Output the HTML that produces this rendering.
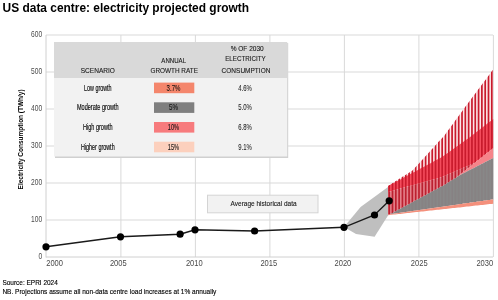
<!DOCTYPE html>
<html><head><meta charset="utf-8"><style>
html,body{margin:0;padding:0;background:#fff;width:498px;height:300px;overflow:hidden;}
svg{position:absolute;left:0;top:0;filter:blur(0.3px);font-family:"Liberation Sans",sans-serif;}
</style></head><body>
<svg width="498" height="300">
<line x1="46" y1="220.0" x2="493" y2="220.0" stroke="#d9d9d9" stroke-width="1"/>
<line x1="46" y1="183.0" x2="493" y2="183.0" stroke="#d9d9d9" stroke-width="1"/>
<line x1="46" y1="146.0" x2="493" y2="146.0" stroke="#d9d9d9" stroke-width="1"/>
<line x1="46" y1="109.0" x2="493" y2="109.0" stroke="#d9d9d9" stroke-width="1"/>
<line x1="46" y1="72.0" x2="493" y2="72.0" stroke="#d9d9d9" stroke-width="1"/>
<line x1="46" y1="35.0" x2="493" y2="35.0" stroke="#d9d9d9" stroke-width="1"/>
<line x1="120.9" y1="35" x2="120.9" y2="257" stroke="#d9d9d9" stroke-width="1"/>
<line x1="195.4" y1="35" x2="195.4" y2="257" stroke="#d9d9d9" stroke-width="1"/>
<line x1="269.9" y1="35" x2="269.9" y2="257" stroke="#d9d9d9" stroke-width="1"/>
<line x1="344.4" y1="35" x2="344.4" y2="257" stroke="#d9d9d9" stroke-width="1"/>
<line x1="418.9" y1="35" x2="418.9" y2="257" stroke="#d9d9d9" stroke-width="1"/>
<line x1="493.4" y1="35" x2="493.4" y2="257" stroke="#d9d9d9" stroke-width="1"/>
<line x1="46" y1="35" x2="46" y2="257.5" stroke="#d0d0d0" stroke-width="1"/>
<line x1="46" y1="257" x2="493" y2="257" stroke="#d0d0d0" stroke-width="1"/>
<polygon points="344.0,227.0 360.6,207.1 388.0,187.0 388.0,215.5 374.6,236.7 356.0,234.0" fill="#bfbfbf"/>
<polygon points="388.0,186.0 389.8,184.9 391.5,183.8 393.3,182.7 395.0,181.6 396.8,180.5 398.5,179.3 400.3,178.2 402.0,177.1 403.8,176.0 405.5,174.9 407.3,173.8 409.0,172.7 410.8,171.6 412.5,170.4 414.3,168.5 416.1,166.6 417.8,164.7 419.6,162.8 421.3,160.8 423.1,158.9 424.8,157.0 426.6,155.1 428.3,153.2 430.1,151.2 431.8,149.3 433.6,147.4 435.3,145.5 437.1,143.6 438.8,141.6 440.6,139.7 442.4,137.8 444.1,135.9 445.9,133.5 447.6,131.1 449.4,128.7 451.1,126.3 452.9,123.9 454.6,121.5 456.4,119.1 458.1,116.7 459.9,114.3 461.6,111.9 463.4,109.5 465.1,107.1 466.9,104.7 468.7,102.3 470.4,100.0 472.2,97.6 473.9,95.3 475.7,92.9 477.4,90.6 479.2,88.2 480.9,85.9 482.7,83.6 484.4,81.2 486.2,78.9 487.9,76.5 489.7,74.2 491.4,71.8 493.2,69.5 493.2,119.0 491.4,120.4 489.7,121.7 487.9,123.1 486.2,124.4 484.4,125.8 482.7,127.2 480.9,128.5 479.2,129.9 477.4,131.2 475.7,132.6 473.9,134.0 472.2,135.3 470.4,136.7 468.7,138.0 466.9,139.2 465.1,140.5 463.4,141.7 461.6,143.0 459.9,144.2 458.1,145.5 456.4,146.7 454.6,148.0 452.9,149.2 451.1,150.5 449.4,151.7 447.6,153.0 445.9,154.2 444.1,155.5 442.4,156.7 440.6,157.8 438.8,158.7 437.1,159.6 435.3,160.6 433.6,161.5 431.8,162.5 430.1,163.4 428.3,164.3 426.6,165.3 424.8,166.2 423.1,167.2 421.3,168.1 419.6,169.1 417.8,170.0 416.1,170.9 414.3,171.9 412.5,172.8 410.8,173.8 409.0,174.7 407.3,175.6 405.5,176.6 403.8,177.5 402.0,178.5 400.3,179.4 398.5,180.4 396.8,181.3 395.0,182.2 393.3,183.2 391.5,184.1 389.8,185.1 388.0,186.0" fill="#fde6e8" />
<polygon points="388.0,186.0 389.8,185.1 391.5,184.1 393.3,183.2 395.0,182.2 396.8,181.3 398.5,180.4 400.3,179.4 402.0,178.5 403.8,177.5 405.5,176.6 407.3,175.6 409.0,174.7 410.8,173.8 412.5,172.8 414.3,171.9 416.1,170.9 417.8,170.0 419.6,169.1 421.3,168.1 423.1,167.2 424.8,166.2 426.6,165.3 428.3,164.3 430.1,163.4 431.8,162.5 433.6,161.5 435.3,160.6 437.1,159.6 438.8,158.7 440.6,157.8 442.4,156.7 444.1,155.5 445.9,154.2 447.6,153.0 449.4,151.7 451.1,150.5 452.9,149.2 454.6,148.0 456.4,146.7 458.1,145.5 459.9,144.2 461.6,143.0 463.4,141.7 465.1,140.5 466.9,139.2 468.7,138.0 470.4,136.7 472.2,135.3 473.9,134.0 475.7,132.6 477.4,131.2 479.2,129.9 480.9,128.5 482.7,127.2 484.4,125.8 486.2,124.4 487.9,123.1 489.7,121.7 491.4,120.4 493.2,119.0 493.2,148.0 491.4,149.4 489.7,150.8 487.9,152.2 486.2,153.6 484.4,155.0 482.7,156.4 480.9,157.8 479.2,159.2 477.4,160.6 475.7,162.0 473.9,163.3 472.2,164.0 470.4,164.8 468.7,165.5 466.9,166.3 465.1,167.1 463.4,167.8 461.6,168.6 459.9,169.3 458.1,170.1 456.4,170.8 454.6,171.6 452.9,172.3 451.1,173.1 449.4,173.8 447.6,174.6 445.9,175.3 444.1,176.1 442.4,176.8 440.6,177.4 438.8,177.9 437.1,178.4 435.3,178.9 433.6,179.3 431.8,179.8 430.1,180.3 428.3,180.8 426.6,181.3 424.8,181.8 423.1,182.3 421.3,182.7 419.6,183.2 417.8,183.7 416.1,184.2 414.3,184.7 412.5,185.2 410.8,185.7 409.0,186.2 407.3,186.6 405.5,187.1 403.8,187.6 402.0,188.1 400.3,188.6 398.5,189.1 396.8,189.6 395.0,190.1 393.3,190.5 391.5,191.0 389.8,191.5 388.0,192.0" fill="#f44c5c" />
<polygon points="388.0,192.0 389.8,191.5 391.5,191.0 393.3,190.5 395.0,190.1 396.8,189.6 398.5,189.1 400.3,188.6 402.0,188.1 403.8,187.6 405.5,187.1 407.3,186.6 409.0,186.2 410.8,185.7 412.5,185.2 414.3,184.7 416.1,184.2 417.8,183.7 419.6,183.2 421.3,182.7 423.1,182.3 424.8,181.8 426.6,181.3 428.3,180.8 430.1,180.3 431.8,179.8 433.6,179.3 435.3,178.9 437.1,178.4 438.8,177.9 440.6,177.4 442.4,176.8 444.1,176.1 445.9,175.3 447.6,174.6 449.4,173.8 451.1,173.1 452.9,172.3 454.6,171.6 456.4,170.8 458.1,170.1 459.9,169.3 461.6,168.6 463.4,167.8 465.1,167.1 466.9,166.3 468.7,165.5 470.4,164.8 472.2,164.0 473.9,163.3 475.7,162.0 477.4,160.6 479.2,159.2 480.9,157.8 482.7,156.4 484.4,155.0 486.2,153.6 487.9,152.2 489.7,150.8 491.4,149.4 493.2,148.0 493.2,148.0 491.4,149.4 489.7,150.8 487.9,152.2 486.2,153.6 484.4,155.0 482.7,156.4 480.9,157.8 479.2,159.2 477.4,160.6 475.7,162.0 473.9,163.4 472.2,164.8 470.4,166.2 468.7,167.6 466.9,169.0 465.1,170.4 463.4,171.8 461.6,173.2 459.9,174.6 458.1,176.0 456.4,177.4 454.6,178.4 452.9,179.5 451.1,180.6 449.4,181.7 447.6,182.8 445.9,183.9 444.1,184.9 442.4,185.9 440.6,186.8 438.8,187.8 437.1,188.7 435.3,189.7 433.6,190.6 431.8,191.6 430.1,192.5 428.3,193.5 426.6,194.4 424.8,195.4 423.1,196.3 421.3,197.3 419.6,198.2 417.8,199.2 416.1,200.1 414.3,201.1 412.5,202.0 410.8,203.0 409.0,203.9 407.3,204.9 405.5,205.8 403.8,206.8 402.0,207.7 400.3,208.7 398.5,209.6 396.8,210.6 395.0,211.5 393.3,212.5 391.5,213.4 389.8,214.2 388.0,214.5" fill="#e4808a" />
<polygon points="388.0,214.5 389.8,214.2 391.5,213.4 393.3,212.5 395.0,211.5 396.8,210.6 398.5,209.6 400.3,208.7 402.0,207.7 403.8,206.8 405.5,205.8 407.3,204.9 409.0,203.9 410.8,203.0 412.5,202.0 414.3,201.1 416.1,200.1 417.8,199.2 419.6,198.2 421.3,197.3 423.1,196.3 424.8,195.4 426.6,194.4 428.3,193.5 430.1,192.5 431.8,191.6 433.6,190.6 435.3,189.7 437.1,188.7 438.8,187.8 440.6,186.8 442.4,185.9 444.1,184.9 445.9,183.9 447.6,182.8 449.4,181.7 451.1,180.6 452.9,179.5 454.6,178.4 456.4,177.4 458.1,176.0 459.9,174.6 461.6,173.2 463.4,171.8 465.1,170.4 466.9,169.0 468.7,167.6 470.4,166.2 472.2,164.8 473.9,163.4 475.7,162.0 477.4,160.6 479.2,159.2 480.9,157.8 482.7,156.4 484.4,155.0 486.2,153.6 487.9,152.2 489.7,150.8 491.4,149.4 493.2,148.0 493.2,158.0 491.4,158.9 489.7,159.8 487.9,160.7 486.2,161.6 484.4,162.5 482.7,163.4 480.9,164.3 479.2,165.2 477.4,166.1 475.7,167.0 473.9,167.9 472.2,168.8 470.4,169.7 468.7,170.6 466.9,171.5 465.1,172.4 463.4,173.3 461.6,174.2 459.9,175.2 458.1,176.3 456.4,177.4 454.6,178.4 452.9,179.5 451.1,180.6 449.4,181.7 447.6,182.8 445.9,183.9 444.1,184.9 442.4,185.9 440.6,186.8 438.8,187.8 437.1,188.7 435.3,189.7 433.6,190.6 431.8,191.6 430.1,192.5 428.3,193.5 426.6,194.4 424.8,195.4 423.1,196.3 421.3,197.3 419.6,198.2 417.8,199.2 416.1,200.1 414.3,201.1 412.5,202.0 410.8,203.0 409.0,203.9 407.3,204.9 405.5,205.8 403.8,206.8 402.0,207.7 400.3,208.7 398.5,209.6 396.8,210.6 395.0,211.5 393.3,212.5 391.5,213.4 389.8,214.2 388.0,214.5" fill="#f6848a" />
<polygon points="388.0,214.5 389.8,214.2 391.5,213.4 393.3,212.5 395.0,211.5 396.8,210.6 398.5,209.6 400.3,208.7 402.0,207.7 403.8,206.8 405.5,205.8 407.3,204.9 409.0,203.9 410.8,203.0 412.5,202.0 414.3,201.1 416.1,200.1 417.8,199.2 419.6,198.2 421.3,197.3 423.1,196.3 424.8,195.4 426.6,194.4 428.3,193.5 430.1,192.5 431.8,191.6 433.6,190.6 435.3,189.7 437.1,188.7 438.8,187.8 440.6,186.8 442.4,185.9 444.1,184.9 445.9,183.9 447.6,182.8 449.4,181.7 451.1,180.6 452.9,179.5 454.6,178.4 456.4,177.4 458.1,176.3 459.9,175.2 461.6,174.2 463.4,173.3 465.1,172.4 466.9,171.5 468.7,170.6 470.4,169.7 472.2,168.8 473.9,167.9 475.7,167.0 477.4,166.1 479.2,165.2 480.9,164.3 482.7,163.4 484.4,162.5 486.2,161.6 487.9,160.7 489.7,159.8 491.4,158.9 493.2,158.0 493.2,199.4 491.4,199.6 489.7,199.9 487.9,200.1 486.2,200.4 484.4,200.6 482.7,200.9 480.9,201.1 479.2,201.4 477.4,201.6 475.7,201.9 473.9,202.1 472.2,202.4 470.4,202.6 468.7,202.9 466.9,203.1 465.1,203.4 463.4,203.6 461.6,203.9 459.9,204.1 458.1,204.4 456.4,204.7 454.6,204.9 452.9,205.2 451.1,205.4 449.4,205.7 447.6,205.9 445.9,206.2 444.1,206.4 442.4,206.7 440.6,206.9 438.8,207.2 437.1,207.4 435.3,207.7 433.6,207.9 431.8,208.2 430.1,208.4 428.3,208.7 426.6,208.9 424.8,209.2 423.1,209.5 421.3,209.7 419.6,210.0 417.8,210.2 416.1,210.5 414.3,210.7 412.5,211.0 410.8,211.2 409.0,211.5 407.3,211.7 405.5,212.0 403.8,212.2 402.0,212.5 400.3,212.7 398.5,213.0 396.8,213.2 395.0,213.5 393.3,213.7 391.5,214.0 389.8,214.2 388.0,214.5" fill="#888888" />
<polygon points="388.0,214.5 389.8,214.2 391.5,214.0 393.3,213.7 395.0,213.5 396.8,213.2 398.5,213.0 400.3,212.7 402.0,212.5 403.8,212.2 405.5,212.0 407.3,211.7 409.0,211.5 410.8,211.2 412.5,211.0 414.3,210.7 416.1,210.5 417.8,210.2 419.6,210.0 421.3,209.7 423.1,209.5 424.8,209.2 426.6,208.9 428.3,208.7 430.1,208.4 431.8,208.2 433.6,207.9 435.3,207.7 437.1,207.4 438.8,207.2 440.6,206.9 442.4,206.7 444.1,206.4 445.9,206.2 447.6,205.9 449.4,205.7 451.1,205.4 452.9,205.2 454.6,204.9 456.4,204.7 458.1,204.4 459.9,204.1 461.6,203.9 463.4,203.6 465.1,203.4 466.9,203.1 468.7,202.9 470.4,202.6 472.2,202.4 473.9,202.1 475.7,201.9 477.4,201.6 479.2,201.4 480.9,201.1 482.7,200.9 484.4,200.6 486.2,200.4 487.9,200.1 489.7,199.9 491.4,199.6 493.2,199.4 493.2,203.7 491.4,203.9 489.7,204.1 487.9,204.3 486.2,204.5 484.4,204.7 482.7,204.9 480.9,205.1 479.2,205.3 477.4,205.5 475.7,205.6 473.9,205.8 472.2,206.0 470.4,206.2 468.7,206.4 466.9,206.6 465.1,206.8 463.4,207.0 461.6,207.2 459.9,207.4 458.1,207.6 456.4,207.7 454.6,207.9 452.9,208.1 451.1,208.3 449.4,208.5 447.6,208.7 445.9,208.9 444.1,209.1 442.4,209.3 440.6,209.5 438.8,209.7 437.1,209.8 435.3,210.0 433.6,210.2 431.8,210.4 430.1,210.6 428.3,210.8 426.6,211.0 424.8,211.2 423.1,211.4 421.3,211.6 419.6,211.8 417.8,212.0 416.1,212.1 414.3,212.3 412.5,212.5 410.8,212.7 409.0,212.9 407.3,213.1 405.5,213.3 403.8,213.5 402.0,213.7 400.3,213.9 398.5,214.1 396.8,214.2 395.0,214.4 393.3,214.6 391.5,214.8 389.8,215.0 388.0,215.2" fill="#f4907c" />
<clipPath id="sc"><polygon points="388.0,186.0 389.8,184.9 391.5,183.8 393.3,182.7 395.0,181.6 396.8,180.5 398.5,179.3 400.3,178.2 402.0,177.1 403.8,176.0 405.5,174.9 407.3,173.8 409.0,172.7 410.8,171.6 412.5,170.4 414.3,168.5 416.1,166.6 417.8,164.7 419.6,162.8 421.3,160.8 423.1,158.9 424.8,157.0 426.6,155.1 428.3,153.2 430.1,151.2 431.8,149.3 433.6,147.4 435.3,145.5 437.1,143.6 438.8,141.6 440.6,139.7 442.4,137.8 444.1,135.9 445.9,133.5 447.6,131.1 449.4,128.7 451.1,126.3 452.9,123.9 454.6,121.5 456.4,119.1 458.1,116.7 459.9,114.3 461.6,111.9 463.4,109.5 465.1,107.1 466.9,104.7 468.7,102.3 470.4,100.0 472.2,97.6 473.9,95.3 475.7,92.9 477.4,90.6 479.2,88.2 480.9,85.9 482.7,83.6 484.4,81.2 486.2,78.9 487.9,76.5 489.7,74.2 491.4,71.8 493.2,69.5 493.2,148.0 491.4,149.4 489.7,150.8 487.9,152.2 486.2,153.6 484.4,155.0 482.7,156.4 480.9,157.8 479.2,159.2 477.4,160.6 475.7,162.0 473.9,163.3 472.2,164.0 470.4,164.8 468.7,165.5 466.9,166.3 465.1,167.1 463.4,167.8 461.6,168.6 459.9,169.3 458.1,170.1 456.4,170.8 454.6,171.6 452.9,172.3 451.1,173.1 449.4,173.8 447.6,174.6 445.9,175.3 444.1,176.1 442.4,176.8 440.6,177.4 438.8,177.9 437.1,178.4 435.3,178.9 433.6,179.3 431.8,179.8 430.1,180.3 428.3,180.8 426.6,181.3 424.8,181.8 423.1,182.3 421.3,182.7 419.6,183.2 417.8,183.7 416.1,184.2 414.3,184.7 412.5,185.2 410.8,185.7 409.0,186.2 407.3,186.6 405.5,187.1 403.8,187.6 402.0,188.1 400.3,188.6 398.5,189.1 396.8,189.6 395.0,190.1 393.3,190.5 391.5,191.0 389.8,191.5 388.0,192.0"/></clipPath>
<clipPath id="sc2"><polygon points="388.0,192.0 389.8,191.5 391.5,191.0 393.3,190.5 395.0,190.1 396.8,189.6 398.5,189.1 400.3,188.6 402.0,188.1 403.8,187.6 405.5,187.1 407.3,186.6 409.0,186.2 410.8,185.7 412.5,185.2 414.3,184.7 416.1,184.2 417.8,183.7 419.6,183.2 421.3,182.7 423.1,182.3 424.8,181.8 426.6,181.3 428.3,180.8 430.1,180.3 431.8,179.8 433.6,179.3 435.3,178.9 437.1,178.4 438.8,177.9 440.6,177.4 442.4,176.8 444.1,176.1 445.9,175.3 447.6,174.6 449.4,173.8 451.1,173.1 452.9,172.3 454.6,171.6 456.4,170.8 458.1,170.1 459.9,169.3 461.6,168.6 463.4,167.8 465.1,167.1 466.9,166.3 468.7,165.5 470.4,164.8 472.2,164.0 473.9,163.3 475.7,162.0 477.4,160.6 479.2,159.2 480.9,157.8 482.7,156.4 484.4,155.0 486.2,153.6 487.9,152.2 489.7,150.8 491.4,149.4 493.2,148.0 493.2,148.0 491.4,149.4 489.7,150.8 487.9,152.2 486.2,153.6 484.4,155.0 482.7,156.4 480.9,157.8 479.2,159.2 477.4,160.6 475.7,162.0 473.9,163.4 472.2,164.8 470.4,166.2 468.7,167.6 466.9,169.0 465.1,170.4 463.4,171.8 461.6,173.2 459.9,174.6 458.1,176.0 456.4,177.4 454.6,178.4 452.9,179.5 451.1,180.6 449.4,181.7 447.6,182.8 445.9,183.9 444.1,184.9 442.4,185.9 440.6,186.8 438.8,187.8 437.1,188.7 435.3,189.7 433.6,190.6 431.8,191.6 430.1,192.5 428.3,193.5 426.6,194.4 424.8,195.4 423.1,196.3 421.3,197.3 419.6,198.2 417.8,199.2 416.1,200.1 414.3,201.1 412.5,202.0 410.8,203.0 409.0,203.9 407.3,204.9 405.5,205.8 403.8,206.8 402.0,207.7 400.3,208.7 398.5,209.6 396.8,210.6 395.0,211.5 393.3,212.5 391.5,213.4 389.8,214.2 388.0,214.5"/></clipPath>
<g clip-path="url(#sc)" fill="#c81a2c"><rect x="388.35" y="60" width="1.7" height="160"/><rect x="391.66" y="60" width="1.7" height="160"/><rect x="394.97" y="60" width="1.7" height="160"/><rect x="398.28" y="60" width="1.7" height="160"/><rect x="401.59" y="60" width="1.7" height="160"/><rect x="404.90" y="60" width="1.7" height="160"/><rect x="408.21" y="60" width="1.7" height="160"/><rect x="411.52" y="60" width="1.7" height="160"/><rect x="414.83" y="60" width="1.7" height="160"/><rect x="418.14" y="60" width="1.7" height="160"/><rect x="421.45" y="60" width="1.7" height="160"/><rect x="424.76" y="60" width="1.7" height="160"/><rect x="428.07" y="60" width="1.7" height="160"/><rect x="431.38" y="60" width="1.7" height="160"/><rect x="434.69" y="60" width="1.7" height="160"/><rect x="438.00" y="60" width="1.7" height="160"/><rect x="441.31" y="60" width="1.7" height="160"/><rect x="444.62" y="60" width="1.7" height="160"/><rect x="447.93" y="60" width="1.7" height="160"/><rect x="451.24" y="60" width="1.7" height="160"/><rect x="454.55" y="60" width="1.7" height="160"/><rect x="457.86" y="60" width="1.7" height="160"/><rect x="461.17" y="60" width="1.7" height="160"/><rect x="464.48" y="60" width="1.7" height="160"/><rect x="467.79" y="60" width="1.7" height="160"/><rect x="471.10" y="60" width="1.7" height="160"/><rect x="474.41" y="60" width="1.7" height="160"/><rect x="477.72" y="60" width="1.7" height="160"/><rect x="481.03" y="60" width="1.7" height="160"/><rect x="484.34" y="60" width="1.7" height="160"/><rect x="487.65" y="60" width="1.7" height="160"/><rect x="490.96" y="60" width="1.7" height="160"/></g>
<g clip-path="url(#sc2)" fill="#bc2030"><rect x="388.35" y="60" width="1.7" height="160"/><rect x="391.66" y="60" width="1.7" height="160"/><rect x="394.97" y="60" width="1.7" height="160"/><rect x="398.28" y="60" width="1.7" height="160"/><rect x="401.59" y="60" width="1.7" height="160"/><rect x="404.90" y="60" width="1.7" height="160"/><rect x="408.21" y="60" width="1.7" height="160"/><rect x="411.52" y="60" width="1.7" height="160"/><rect x="414.83" y="60" width="1.7" height="160"/><rect x="418.14" y="60" width="1.7" height="160"/><rect x="421.45" y="60" width="1.7" height="160"/><rect x="424.76" y="60" width="1.7" height="160"/><rect x="428.07" y="60" width="1.7" height="160"/><rect x="431.38" y="60" width="1.7" height="160"/><rect x="434.69" y="60" width="1.7" height="160"/><rect x="438.00" y="60" width="1.7" height="160"/><rect x="441.31" y="60" width="1.7" height="160"/><rect x="444.62" y="60" width="1.7" height="160"/><rect x="447.93" y="60" width="1.7" height="160"/><rect x="451.24" y="60" width="1.7" height="160"/><rect x="454.55" y="60" width="1.7" height="160"/><rect x="457.86" y="60" width="1.7" height="160"/><rect x="461.17" y="60" width="1.7" height="160"/><rect x="464.48" y="60" width="1.7" height="160"/><rect x="467.79" y="60" width="1.7" height="160"/><rect x="471.10" y="60" width="1.7" height="160"/><rect x="474.41" y="60" width="1.7" height="160"/><rect x="477.72" y="60" width="1.7" height="160"/><rect x="481.03" y="60" width="1.7" height="160"/><rect x="484.34" y="60" width="1.7" height="160"/><rect x="487.65" y="60" width="1.7" height="160"/><rect x="490.96" y="60" width="1.7" height="160"/></g>
<clipPath id="sc3"><polygon points="388.0,214.5 389.8,214.2 391.5,213.4 393.3,212.5 395.0,211.5 396.8,210.6 398.5,209.6 400.3,208.7 402.0,207.7 403.8,206.8 405.5,205.8 407.3,204.9 409.0,203.9 410.8,203.0 412.5,202.0 414.3,201.1 416.1,200.1 417.8,199.2 419.6,198.2 421.3,197.3 423.1,196.3 424.8,195.4 426.6,194.4 428.3,193.5 430.1,192.5 431.8,191.6 433.6,190.6 435.3,189.7 437.1,188.7 438.8,187.8 440.6,186.8 442.4,185.9 444.1,184.9 445.9,183.9 447.6,182.8 449.4,181.7 451.1,180.6 452.9,179.5 454.6,178.4 456.4,177.4 458.1,176.3 459.9,175.2 461.6,174.2 463.4,173.3 465.1,172.4 466.9,171.5 468.7,170.6 470.4,169.7 472.2,168.8 473.9,167.9 475.7,167.0 477.4,166.1 479.2,165.2 480.9,164.3 482.7,163.4 484.4,162.5 486.2,161.6 487.9,160.7 489.7,159.8 491.4,158.9 493.2,158.0 493.2,199.4 491.4,199.6 489.7,199.9 487.9,200.1 486.2,200.4 484.4,200.6 482.7,200.9 480.9,201.1 479.2,201.4 477.4,201.6 475.7,201.9 473.9,202.1 472.2,202.4 470.4,202.6 468.7,202.9 466.9,203.1 465.1,203.4 463.4,203.6 461.6,203.9 459.9,204.1 458.1,204.4 456.4,204.7 454.6,204.9 452.9,205.2 451.1,205.4 449.4,205.7 447.6,205.9 445.9,206.2 444.1,206.4 442.4,206.7 440.6,206.9 438.8,207.2 437.1,207.4 435.3,207.7 433.6,207.9 431.8,208.2 430.1,208.4 428.3,208.7 426.6,208.9 424.8,209.2 423.1,209.5 421.3,209.7 419.6,210.0 417.8,210.2 416.1,210.5 414.3,210.7 412.5,211.0 410.8,211.2 409.0,211.5 407.3,211.7 405.5,212.0 403.8,212.2 402.0,212.5 400.3,212.7 398.5,213.0 396.8,213.2 395.0,213.5 393.3,213.7 391.5,214.0 389.8,214.2 388.0,214.5"/></clipPath>
<g clip-path="url(#sc3)" fill="#804050" opacity="0.08"><rect x="388.35" y="60" width="1.7" height="160"/><rect x="391.66" y="60" width="1.7" height="160"/><rect x="394.97" y="60" width="1.7" height="160"/><rect x="398.28" y="60" width="1.7" height="160"/><rect x="401.59" y="60" width="1.7" height="160"/><rect x="404.90" y="60" width="1.7" height="160"/><rect x="408.21" y="60" width="1.7" height="160"/><rect x="411.52" y="60" width="1.7" height="160"/><rect x="414.83" y="60" width="1.7" height="160"/><rect x="418.14" y="60" width="1.7" height="160"/><rect x="421.45" y="60" width="1.7" height="160"/><rect x="424.76" y="60" width="1.7" height="160"/><rect x="428.07" y="60" width="1.7" height="160"/><rect x="431.38" y="60" width="1.7" height="160"/><rect x="434.69" y="60" width="1.7" height="160"/><rect x="438.00" y="60" width="1.7" height="160"/><rect x="441.31" y="60" width="1.7" height="160"/><rect x="444.62" y="60" width="1.7" height="160"/><rect x="447.93" y="60" width="1.7" height="160"/><rect x="451.24" y="60" width="1.7" height="160"/><rect x="454.55" y="60" width="1.7" height="160"/><rect x="457.86" y="60" width="1.7" height="160"/><rect x="461.17" y="60" width="1.7" height="160"/><rect x="464.48" y="60" width="1.7" height="160"/><rect x="467.79" y="60" width="1.7" height="160"/><rect x="471.10" y="60" width="1.7" height="160"/><rect x="474.41" y="60" width="1.7" height="160"/><rect x="477.72" y="60" width="1.7" height="160"/><rect x="481.03" y="60" width="1.7" height="160"/><rect x="484.34" y="60" width="1.7" height="160"/><rect x="487.65" y="60" width="1.7" height="160"/><rect x="490.96" y="60" width="1.7" height="160"/></g>
<polyline points="46.0,246.8 120.5,236.8 180.1,234.2 195.0,229.8 254.6,231.0 344.0,227.3 374.5,215.0 389.2,200.8" fill="none" stroke="#1a1a1a" stroke-width="1.4"/>
<circle cx="46.0" cy="246.8" r="3.6" fill="#000"/>
<circle cx="120.5" cy="236.8" r="3.6" fill="#000"/>
<circle cx="180.1" cy="234.2" r="3.6" fill="#000"/>
<circle cx="195.0" cy="229.8" r="3.6" fill="#000"/>
<circle cx="254.6" cy="231.0" r="3.6" fill="#000"/>
<circle cx="344.0" cy="227.3" r="3.6" fill="#000"/>
<circle cx="374.5" cy="215.0" r="3.6" fill="#000"/>
<circle cx="389.2" cy="200.8" r="3.6" fill="#000"/>
<rect x="55" y="43" width="233.2" height="115" fill="#d0d0d0"/>
<rect x="54" y="42" width="233.2" height="114.5" fill="#f2f2f2"/>
<rect x="54" y="42" width="233.2" height="36" fill="#d9d9d9"/>
<rect x="154" y="82.6" width="40.3" height="10.6" fill="#f4866c"/>
<text x="97.8" y="90.6" font-size="8.4" text-anchor="middle" fill="#000" font-weight="normal" textLength="27.6" lengthAdjust="spacingAndGlyphs"  stroke="#000" stroke-width="0.14">Low growth</text>
<text x="173.5" y="90.6" font-size="8.5" text-anchor="middle" fill="#111" font-weight="normal" textLength="13.8" lengthAdjust="spacingAndGlyphs"  stroke="#111" stroke-width="0.08">3.7%</text>
<text x="245.1" y="90.6" font-size="8.3" text-anchor="middle" fill="#222" font-weight="normal" textLength="13.6" lengthAdjust="spacingAndGlyphs"  stroke="#222" stroke-width="0.06">4.6%</text>
<rect x="154" y="102.3" width="40.3" height="10.6" fill="#7f7f7f"/>
<text x="97.8" y="110.3" font-size="8.4" text-anchor="middle" fill="#000" font-weight="normal" textLength="41.6" lengthAdjust="spacingAndGlyphs"  stroke="#000" stroke-width="0.14">Moderate growth</text>
<text x="173.5" y="110.3" font-size="8.5" text-anchor="middle" fill="#111" font-weight="normal" textLength="9" lengthAdjust="spacingAndGlyphs"  stroke="#111" stroke-width="0.08">5%</text>
<text x="245.1" y="110.3" font-size="8.3" text-anchor="middle" fill="#222" font-weight="normal" textLength="13.6" lengthAdjust="spacingAndGlyphs"  stroke="#222" stroke-width="0.06">5.0%</text>
<rect x="154" y="122.0" width="40.3" height="10.6" fill="#f77b7d"/>
<text x="97.8" y="130.0" font-size="8.4" text-anchor="middle" fill="#000" font-weight="normal" textLength="29.5" lengthAdjust="spacingAndGlyphs"  stroke="#000" stroke-width="0.14">High growth</text>
<text x="173.5" y="130.0" font-size="8.5" text-anchor="middle" fill="#111" font-weight="normal" textLength="11.3" lengthAdjust="spacingAndGlyphs"  stroke="#111" stroke-width="0.08">10%</text>
<text x="245.1" y="130.0" font-size="8.3" text-anchor="middle" fill="#222" font-weight="normal" textLength="13.6" lengthAdjust="spacingAndGlyphs"  stroke="#222" stroke-width="0.06">6.8%</text>
<rect x="154" y="141.7" width="40.3" height="10.6" fill="#fcd0bd"/>
<text x="97.8" y="149.7" font-size="8.4" text-anchor="middle" fill="#000" font-weight="normal" textLength="33.7" lengthAdjust="spacingAndGlyphs"  stroke="#000" stroke-width="0.14">Higher growth</text>
<text x="173.5" y="149.7" font-size="8.5" text-anchor="middle" fill="#111" font-weight="normal" textLength="11.3" lengthAdjust="spacingAndGlyphs"  stroke="#111" stroke-width="0.08">15%</text>
<text x="245.1" y="149.7" font-size="8.3" text-anchor="middle" fill="#222" font-weight="normal" textLength="13.6" lengthAdjust="spacingAndGlyphs"  stroke="#222" stroke-width="0.06">9.1%</text>
<text x="97.8" y="73.3" font-size="7.8" text-anchor="middle" fill="#1a1a1a" font-weight="normal" textLength="34.2" lengthAdjust="spacingAndGlyphs"  stroke="#1a1a1a" stroke-width="0.12">SCENARIO</text>
<text x="173.7" y="62.6" font-size="7.8" text-anchor="middle" fill="#1a1a1a" font-weight="normal" textLength="24.7" lengthAdjust="spacingAndGlyphs"  stroke="#1a1a1a" stroke-width="0.12">ANNUAL</text>
<text x="174.2" y="73.3" font-size="7.8" text-anchor="middle" fill="#1a1a1a" font-weight="normal" textLength="47.6" lengthAdjust="spacingAndGlyphs"  stroke="#1a1a1a" stroke-width="0.12">GROWTH RATE</text>
<text x="247.2" y="51.4" font-size="7.8" text-anchor="middle" fill="#1a1a1a" font-weight="normal" textLength="33.1" lengthAdjust="spacingAndGlyphs"  stroke="#1a1a1a" stroke-width="0.12">% OF 2030</text>
<text x="245.4" y="60.6" font-size="7.8" text-anchor="middle" fill="#1a1a1a" font-weight="normal" textLength="40.4" lengthAdjust="spacingAndGlyphs"  stroke="#1a1a1a" stroke-width="0.12">ELECTRICITY</text>
<text x="246" y="73.3" font-size="7.8" text-anchor="middle" fill="#1a1a1a" font-weight="normal" textLength="48.8" lengthAdjust="spacingAndGlyphs"  stroke="#1a1a1a" stroke-width="0.12">CONSUMPTION</text>
<rect x="207.5" y="195.2" width="110.5" height="17.6" fill="#f2f2f2" stroke="#d4d4d4" stroke-width="1"/>
<text x="263.6" y="206.2" font-size="7.8" text-anchor="middle" fill="#1a1a1a" font-weight="normal" textLength="66" lengthAdjust="spacingAndGlyphs"  stroke="#1a1a1a" stroke-width="0.12">Average historical data</text>
<text x="42.2" y="36.8" font-size="8.2" text-anchor="end" fill="#4a4a4a" font-weight="normal" textLength="11.100000000000001" lengthAdjust="spacingAndGlyphs" >600</text>
<text x="42.2" y="73.8" font-size="8.2" text-anchor="end" fill="#4a4a4a" font-weight="normal" textLength="11.100000000000001" lengthAdjust="spacingAndGlyphs" >500</text>
<text x="42.2" y="110.8" font-size="8.2" text-anchor="end" fill="#4a4a4a" font-weight="normal" textLength="11.100000000000001" lengthAdjust="spacingAndGlyphs" >400</text>
<text x="42.2" y="147.8" font-size="8.2" text-anchor="end" fill="#4a4a4a" font-weight="normal" textLength="11.100000000000001" lengthAdjust="spacingAndGlyphs" >300</text>
<text x="42.2" y="184.8" font-size="8.2" text-anchor="end" fill="#4a4a4a" font-weight="normal" textLength="11.100000000000001" lengthAdjust="spacingAndGlyphs" >200</text>
<text x="42.2" y="221.8" font-size="8.2" text-anchor="end" fill="#4a4a4a" font-weight="normal" textLength="11.100000000000001" lengthAdjust="spacingAndGlyphs" >100</text>
<text x="42.2" y="258.8" font-size="8.2" text-anchor="end" fill="#4a4a4a" font-weight="normal" textLength="3.7" lengthAdjust="spacingAndGlyphs" >0</text>
<text x="46.2" y="265.9" font-size="8.2" text-anchor="start" fill="#4a4a4a" font-weight="normal" textLength="16.8" lengthAdjust="spacingAndGlyphs" >2000</text>
<text x="118.3" y="265.9" font-size="8.2" text-anchor="middle" fill="#4a4a4a" font-weight="normal" textLength="16.8" lengthAdjust="spacingAndGlyphs" >2005</text>
<text x="194.3" y="265.9" font-size="8.2" text-anchor="middle" fill="#4a4a4a" font-weight="normal" textLength="16.8" lengthAdjust="spacingAndGlyphs" >2010</text>
<text x="268.8" y="265.9" font-size="8.2" text-anchor="middle" fill="#4a4a4a" font-weight="normal" textLength="16.8" lengthAdjust="spacingAndGlyphs" >2015</text>
<text x="342.9" y="265.9" font-size="8.2" text-anchor="middle" fill="#4a4a4a" font-weight="normal" textLength="16.8" lengthAdjust="spacingAndGlyphs" >2020</text>
<text x="419.2" y="265.9" font-size="8.2" text-anchor="middle" fill="#4a4a4a" font-weight="normal" textLength="16.8" lengthAdjust="spacingAndGlyphs" >2025</text>
<text x="493.2" y="265.9" font-size="8.2" text-anchor="end" fill="#4a4a4a" font-weight="normal" textLength="16.8" lengthAdjust="spacingAndGlyphs" >2030</text>
<text x="2.6" y="11.7" font-size="12.1" text-anchor="start" fill="#000" font-weight="bold" textLength="246.5" lengthAdjust="spacingAndGlyphs" >US data centre: electricity projected growth</text>
<text x="2.4" y="285.2" font-size="8" text-anchor="start" fill="#000" font-weight="normal" textLength="55.4" lengthAdjust="spacingAndGlyphs"  stroke="#000" stroke-width="0.15">Source: EPRI 2024</text>
<text x="2.4" y="294" font-size="8" text-anchor="start" fill="#000" font-weight="normal" textLength="214" lengthAdjust="spacingAndGlyphs"  stroke="#000" stroke-width="0.15">NB. Projections assume all non-data centre load increases at 1% annually</text>
<g transform="translate(22.6,139.4) rotate(-90)"><text x="0" y="0" font-size="6.9" font-weight="bold" text-anchor="middle" fill="#000" textLength="100" lengthAdjust="spacingAndGlyphs">Electricity Consumption (TWh/y)</text></g>
</svg>
</body></html>
